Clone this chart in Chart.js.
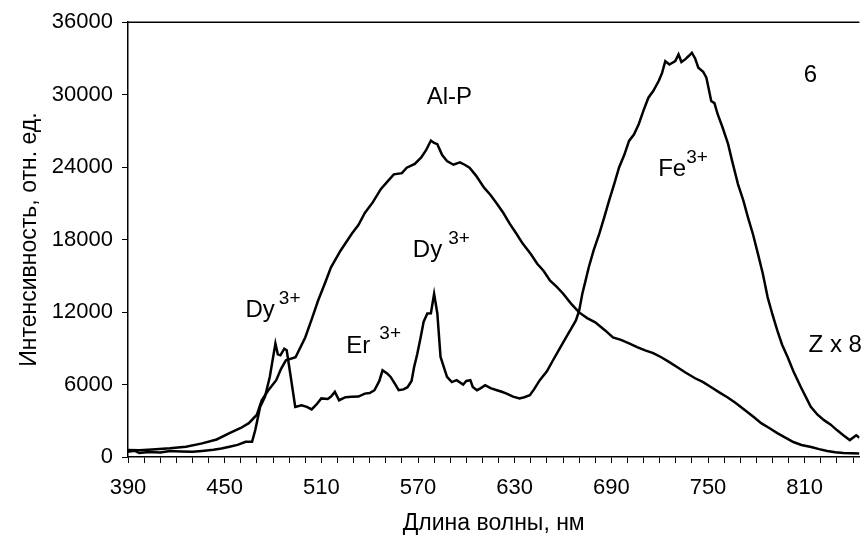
<!DOCTYPE html>
<html>
<head>
<meta charset="utf-8">
<script src="https://cdn.jsdelivr.net/npm/chart.js@4"></script>
<style>
    html, body { margin: 0; padding: 0; background: #fff; }
    #wrap { width: 865px; height: 541px; position: relative; }
</style>
</head>
<body>
<div id="wrap"><canvas id="spectrumChart"></canvas></div>
<script>
// Al-P broad band
const wlAlP = [390, 397, 405, 416, 426, 436, 445, 453, 460, 465, 470, 473, 477, 482, 485, 488, 494, 500, 504, 508, 512, 516, 522, 529, 533, 537, 542, 547, 551, 555, 560, 563, 568, 572, 575, 578, 580, 582, 585, 588, 592, 596, 599, 602, 606, 611, 615, 619, 623, 627, 631, 635, 640, 644, 648, 652, 656, 660, 665, 670, 675, 680, 686, 691, 696, 701, 706, 711, 716, 721, 726, 731, 736, 742, 747, 752, 757, 762, 767, 773, 778, 783, 788, 793, 798, 803, 808, 814, 819, 824, 829, 834, 839, 844];
const intAlP = [580, 560, 620, 715, 850, 1130, 1450, 1980, 2400, 2800, 3500, 4700, 5500, 6360, 7300, 8000, 8260, 9900, 11400, 12960, 14300, 15700, 17100, 18500, 19200, 20200, 21100, 22200, 22800, 23400, 23500, 23950, 24270, 24800, 25400, 26200, 26000, 25900, 25000, 24500, 24200, 24400, 24200, 23950, 23300, 22300, 21700, 20970, 20200, 19300, 18500, 17670, 16800, 16000, 15400, 14600, 14100, 13540, 12700, 11970, 11500, 11150, 10500, 9900, 9700, 9400, 9100, 8830, 8600, 8260, 7850, 7430, 7000, 6520, 6200, 5780, 5350, 4950, 4500, 3880, 3350, 2800, 2400, 1980, 1600, 1240, 1000, 830, 650, 500, 400, 330, 310, 300];

// Dy / Er / Fe emission
const wlFe = [390, 394, 397, 403, 410, 416, 423, 430, 436, 443, 448, 453, 458, 463, 467, 469, 472, 475, 478, 481.5, 483, 484.6, 487, 488.5, 490.7, 493.8, 497.7, 501, 504, 507, 510, 514, 516, 518.4, 521, 525, 528.7, 533, 537, 540, 543, 546, 548, 551, 553, 556, 558, 561, 563.5, 566, 567.6, 569.5, 571.7, 573.5, 575.8, 578, 580, 582, 584, 588, 591, 594, 598, 600, 602.5, 604, 606.6, 609, 611.7, 615, 619, 622, 625, 629, 633, 636, 639.4, 642, 645.6, 650, 653.8, 658, 662, 665, 668, 670, 672, 674, 676, 679, 682.5, 685.5, 688.6, 692, 694.8, 698, 701, 704, 707, 710, 713, 716, 719.4, 721.5, 723.5, 726, 729.7, 731.7, 733.5, 735.8, 738, 740, 742, 744, 747, 749, 752, 754, 756, 759, 762.5, 765, 768.6, 772, 774.8, 778, 781, 784, 787, 790, 793, 796, 799.4, 803, 807.6, 811, 813.8, 818, 822, 826, 830, 834, 838, 842, 844];
const intFe = [440, 520, 330, 420, 380, 500, 460, 430, 500, 600, 700, 850, 1000, 1260, 1260, 2230, 4150, 4980, 6630, 9390, 8500, 8420, 8970, 8840, 6910, 4150, 4290, 4150, 3940, 4350, 4850, 4800, 5000, 5390, 4700, 4950, 4980, 5000, 5250, 5300, 5530, 6300, 7180, 6900, 6630, 6000, 5530, 5600, 5780, 6300, 7460, 8500, 9930, 11200, 11880, 11900, 13510, 11880, 8280, 6630, 6200, 6360, 6000, 6300, 6360, 5800, 5530, 5700, 5940, 5700, 5530, 5400, 5250, 5000, 4840, 4950, 5110, 5600, 6360, 7100, 8010, 9000, 9930, 10600, 11310, 12100, 13520, 14600, 15710, 17100, 18470, 19800, 21220, 22700, 23970, 25000, 26170, 26700, 27550, 28700, 29750, 30300, 31130, 31800, 32780, 32500, 32780, 33330, 32700, 32920, 33200, 33470, 33000, 32230, 31900, 31400, 29480, 29300, 28380, 27300, 25900, 24500, 22600, 21200, 19840, 18400, 16820, 15200, 13240, 11800, 10490, 9300, 8280, 7100, 5800, 4900, 4150, 3500, 3050, 2700, 2230, 1800, 1400, 1800, 1600];

const xMin = 390;
const xMax = 844;
const xLabelStep = 60;
const xMinorStep = 10;
const yMax = 36000;
const yStep = 6000;

// text placed over the plot, in data coordinates (centre of the whole label)
const notes = [
    { text: 'Al-P', x: 589.5, y: 29800, sup: '', gap: 0 },
    { text: '6', x: 813.5, y: 31600, sup: '', gap: 0 },
    { text: 'Fe', x: 734.5, y: 23780, sup: '3+', gap: 0 },
    { text: 'Dy', x: 584.5, y: 17090, sup: '3+', gap: 6 },
    { text: 'Dy', x: 480, y: 12140, sup: '3+', gap: 4 },
    { text: 'Er', x: 542.5, y: 9170, sup: '3+', gap: 9 },
    { text: 'Z x 8', x: 829, y: 9250, sup: '', gap: 0 }
];

const FONT = '"Liberation Sans", Arial, sans-serif';
const TICK_SIZE = 22;
const TITLE_SIZE = 23;
const NOTE_SIZE = 24;
const SUP_SIZE = 19;

const frameTop = {
    id: 'frameTop',
    afterDraw(chart) {
        const { ctx, chartArea } = chart;
        ctx.save();
        ctx.strokeStyle = '#000';
        ctx.lineWidth = 1.5;
        ctx.beginPath();
        ctx.moveTo(chartArea.left, chartArea.top);
        ctx.lineTo(chartArea.right, chartArea.top);
        ctx.stroke();
        ctx.restore();
    }
};

const noteLabels = {
    id: 'noteLabels',
    afterDatasetsDraw(chart) {
        const { ctx, scales } = chart;
        ctx.save();
        ctx.fillStyle = '#000';
        ctx.textBaseline = 'middle';
        ctx.textAlign = 'left';
        notes.forEach(n => {
            const px = scales.x.getPixelForValue(n.x);
            const py = scales.y.getPixelForValue(n.y);
            ctx.font = NOTE_SIZE + 'px ' + FONT;
            const w = ctx.measureText(n.text).width;
            let supW = 0;
            if (n.sup) {
                ctx.font = SUP_SIZE + 'px ' + FONT;
                supW = ctx.measureText(n.sup).width + n.gap;
            }
            const left = px - (w + supW) / 2;
            ctx.font = NOTE_SIZE + 'px ' + FONT;
            ctx.fillText(n.text, left, py);
            if (n.sup) {
                ctx.font = SUP_SIZE + 'px ' + FONT;
                ctx.fillText(n.sup, left + w + n.gap, py - 12);
            }
        });
        ctx.restore();
    }
};

const toPoints = (xs, ys) => xs.map((x, i) => ({ x: x, y: ys[i] }));

const ctx = document.getElementById('spectrumChart').getContext('2d');
new Chart(ctx, {
    type: 'line',
    data: {
        datasets: [{
            label: 'Al-P',
            data: toPoints(wlAlP, intAlP),
            borderColor: '#000',
            borderWidth: 2.5,
            pointRadius: 0,
            tension: 0,
            fill: false
        }, {
            label: 'Fe',
            data: toPoints(wlFe, intFe),
            borderColor: '#000',
            borderWidth: 2.5,
            pointRadius: 0,
            tension: 0,
            fill: false
        }]
    },
    options: {
        responsive: true,
        maintainAspectRatio: false,
        animation: false,
        layout: { padding: { top: 21, right: 0, left: 0, bottom: 0 } },
        plugins: {
            legend: { display: false },
            tooltip: { enabled: false }
        },
        scales: {
            x: {
                type: 'linear',
                min: xMin,
                max: xMax,
                afterFit: function(scale) { scale.height = 84; },
                border: { color: '#000', width: 1.5 },
                grid: {
                    drawOnChartArea: false,
                    color: '#000',
                    tickLength: 6,
                    tickWidth: 1
                },
                ticks: {
                    stepSize: xMinorStep,
                    autoSkip: false,
                    maxRotation: 0,
                    includeBounds: false,
                    padding: 12,
                    color: '#000',
                    font: { family: FONT, size: TICK_SIZE },
                    callback: function(value) {
                        return (value - xMin) % xLabelStep === 0 ? String(value) : '';
                    }
                },
                title: {
                    display: true,
                    text: 'Длина волны, нм',
                    color: '#000',
                    font: { family: FONT, size: TITLE_SIZE },
                    padding: { top: 0, bottom: 4 }
                }
            },
            y: {
                min: 0,
                max: yMax,
                afterFit: function(scale) { scale.width = 128; },
                border: { color: '#000', width: 1.5 },
                grid: {
                    drawOnChartArea: false,
                    color: '#000',
                    tickLength: 6,
                    tickWidth: 1
                },
                ticks: {
                    stepSize: yStep,
                    padding: 9,
                    color: '#000',
                    font: { family: FONT, size: TICK_SIZE },
                    callback: function(value) { return String(value); }
                },
                title: {
                    display: true,
                    text: 'Интенсивность, отн. ед.',
                    color: '#000',
                    font: { family: FONT, size: TITLE_SIZE },
                    padding: { top: 16, bottom: 0 }
                }
            }
        }
    },
    plugins: [frameTop, noteLabels]
});
</script>
</body>
</html>
